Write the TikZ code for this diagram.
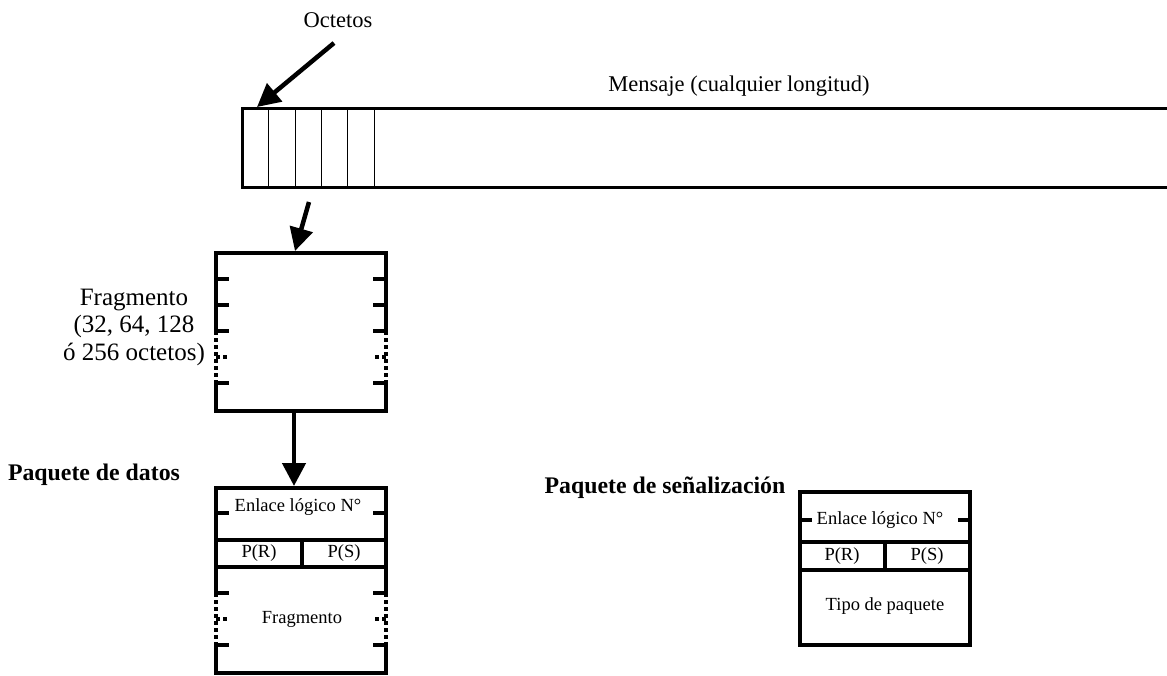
\documentclass[tikz,border=0pt]{standalone}
\usepackage{fontspec}
\setmainfont{Liberation Serif}
\usetikzlibrary{arrows.meta}

\begin{document}
\begin{tikzpicture}[x=1pt,y=-1pt,
  frame/.style={line width=3.5pt},
  msgframe/.style={line width=3pt},
  thinrule/.style={line width=1pt},
  dots/.style={line width=4pt, dash pattern=on 4pt off 3pt},
  bigarrow/.style={line width=4.5pt, -{Triangle[length=23pt,width=23pt]}},
  lbl/.style={font=\fontsize{22.5}{27}\selectfont, inner sep=0pt},
  sidelbl/.style={font=\fontsize{25}{27.5}\selectfont, inner sep=0pt},
  head/.style={font=\bfseries\fontsize{23.8}{27}\selectfont, inner sep=0pt},
  cell/.style={font=\fontsize{18.5}{22}\selectfont, inner sep=0pt},
]
\useasboundingbox (0,0) rectangle (1167,675);

% ---------- message (open on the right) ----------
\draw[msgframe] (1170,108) -| (242,187) -- (1170,187);
\foreach \x in {268,295,321,347,374}
  \draw[thinrule] (\x,108) -- (\x,187);
\coordinate (msgcorner) at (257,107);
\coordinate (msgbottom) at (309,202);
\node[lbl] (msglabel) at (739,86) {Mensaje (cualquier longitud)};

% ---------- octet label and arrow ----------
\node[lbl] (octlabel) at (338,20) {Octetos};
\coordinate (octstart) at (334,43);
\draw[bigarrow] (octstart) -- (msgcorner);

% ---------- fragment ----------
\coordinate (fragtop) at (295,251);
\coordinate (fragbottom) at (294,411);
\draw[bigarrow] (msgbottom) -- (fragtop);
\draw[frame] (216,331) -- (216,253) -- (386,253) -- (386,331);
\draw[dots] (216,331) -- (216,383);
\draw[dots] (386,331) -- (386,383);
\draw[frame] (216,383) -- (216,411) -- (386,411) -- (386,383);
\foreach \y in {279,305,331,383} {
  \draw[frame] (216,\y) -- +(13,0);
  \draw[frame] (386,\y) -- +(-13,0);
}
\draw[dots] (216,357) -- +(13,0);
\draw[dots] (386,357) -- +(-13,0);
\node[sidelbl, align=center] (fraglabel) at (134,327)
  {Fragmento\\(32, 64, 128\\ó 256 octetos)};

% ---------- data packet ----------
\node[head] (datahead) at (94,475) {Paquete de datos};
\coordinate (datatop) at (294,486);
\draw[bigarrow] (fragbottom) -- (datatop);
\draw[frame] (216,593) -- (216,488) -- (386,488) -- (386,593);
\draw[frame] (216,540) -- (386,540);
\draw[frame] (216,567) -- (386,567);
\draw[frame] (302,540) -- (302,567);
\foreach \y in {513,593,645} {
  \draw[frame] (216,\y) -- +(13,0);
  \draw[frame] (386,\y) -- +(-13,0);
}
\draw[dots] (216,593) -- (216,645);
\draw[dots] (386,593) -- (386,645);
\draw[dots] (216,619) -- +(13,0);
\draw[dots] (386,619) -- +(-13,0);
\draw[frame] (216,645) -- (216,673) -- (386,673) -- (386,645);
\node[cell] (dlink) at (298,507) {Enlace lógico N°};
\node[cell] (dpr) at (259,553) {P(R)};
\node[cell] (dps) at (344,553) {P(S)};
\node[cell] (dfrag) at (302,619) {Fragmento};

% ---------- signalling packet ----------
\node[head] (sighead) at (665,488) {Paquete de señalización};
\draw[frame] (800,492) rectangle (970,645);
\draw[frame] (800,542) -- (970,542);
\draw[frame] (800,570) -- (970,570);
\draw[frame] (885,542) -- (885,570);
\draw[frame] (800,520) -- +(12,0);
\draw[frame] (970,520) -- +(-12,0);
\node[cell] (slink) at (880,520) {Enlace lógico N°};
\node[cell] (spr) at (842,556) {P(R)};
\node[cell] (sps) at (927,556) {P(S)};
\node[cell] (stype) at (885,606) {Tipo de paquete};
\end{tikzpicture}
\end{document}
